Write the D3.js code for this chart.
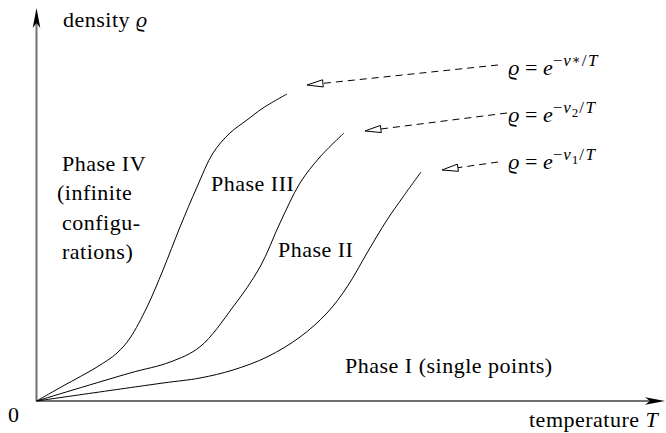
<!DOCTYPE html>
<html><head><meta charset="utf-8">
<script src="https://cdn.jsdelivr.net/npm/d3@7"></script>
<style>
body{margin:0;background:#fff}
text{font-family:"Liberation Serif","DejaVu Serif",serif;font-size:22px;fill:#000;letter-spacing:0.5px}
</style>
</head><body>
<svg id="c" width="666" height="433"></svg>
<script>
// ---- data (T in arbitrary units 0..10, density 0..10) ----
const nuStarT   = [0, 0.421, 0.960, 1.278, 1.484, 1.754, 2.008, 2.278, 2.548, 2.802, 3.071, 3.341, 3.595, 3.976];
const nuStarRho = [0, 0.382, 0.865, 1.221, 1.603, 2.392, 3.333, 4.427, 5.445, 6.310, 6.819, 7.150, 7.455, 7.812];
const nu2T      = [0, 1.484, 2.119, 2.595, 3.119, 3.548, 3.865, 4.183, 4.500, 4.881];
const nu2Rho    = [0, 0.712, 0.990, 1.380, 2.392, 3.410, 4.529, 5.547, 6.209, 6.819];
const nu1T      = [0, 2.008, 2.595, 3.119, 3.659, 4.183, 4.611, 4.929, 5.246, 5.563, 5.817, 6.103];
const nu1Rho    = [0, 0.458, 0.585, 0.789, 1.120, 1.628, 2.239, 2.901, 3.766, 4.606, 5.191, 5.827];

// annotation arrows (label -> curve end)
const arrowFromT   = [7.325, 7.468, 7.325];
const arrowFromRho = [8.550, 7.328, 6.081];
const arrowToT     = [4.294, 5.214, 6.437];
const arrowToRho   = [8.040, 6.870, 5.878];
const labelSubs    = ["*", "2", "1"];
const labelT       = [7.49, 7.49, 7.49];
const labelRho     = [8.295, 7.099, 5.903];

const phaseLines = ["Phase IV", "(infinite", "configu-", "rations)", "Phase III", "Phase II", "Phase I (single points)"];
const phaseT     = [0.405, 0.325, 0.405, 0.405, 2.770, 3.833, 4.897];
const phaseRho   = [5.852, 5.115, 4.351, 3.613, 5.344, 3.664, 0.712];

const xMax = 10, yMax = 10;

// ---- scales ----
const x = d3.scaleLinear().domain([0, xMax]).range([36.5, 666.5]);
const y = d3.scaleLinear().domain([0, yMax]).range([401, 8]);

const svg = d3.select("#c");

// axes
const axisColor = "#707070";
svg.append("line").attr("x1", x(0)).attr("y1", y(0)).attr("x2", x(xMax) - 8).attr("y2", y(0))
  .attr("stroke", axisColor).attr("stroke-width", 2);
svg.append("line").attr("x1", x(0)).attr("y1", y(0)).attr("x2", x(0)).attr("y2", y(yMax) + 8)
  .attr("stroke", axisColor).attr("stroke-width", 2);

function stealth(tx, ty, dx, dy) {
  const L = 20, W = 3.8, ind = 5;
  const px = -dy, py = dx;
  const bx = tx - dx * L, by = ty - dy * L;
  const ix = tx - dx * (L - ind), iy = ty - dy * (L - ind);
  return `M${tx},${ty}L${bx + px * W},${by + py * W}L${ix},${iy}L${bx - px * W},${by - py * W}Z`;
}
svg.append("path").attr("d", stealth(x(xMax) - 1.5, y(0), 1, 0)).attr("fill", "#000");
svg.append("path").attr("d", stealth(x(0), y(yMax), 0, -1)).attr("fill", "#000");

// curves
const line = d3.line().x(d => x(d[0])).y(d => y(d[1])).curve(d3.curveCatmullRom.alpha(0.5));
[[nuStarT, nuStarRho], [nu2T, nu2Rho], [nu1T, nu1Rho]].forEach(([ts, rs]) => {
  svg.append("path").attr("d", line(ts.map((t, i) => [t, rs[i]])))
    .attr("fill", "none").attr("stroke", "#000").attr("stroke-width", 1);
});

// dashed arrows with open triangle heads
arrowFromT.forEach((ft, i) => {
  const sx = x(ft), sy = y(arrowFromRho[i]);
  const tx = x(arrowToT[i]), ty = y(arrowToRho[i]);
  let dx = tx - sx, dy = ty - sy;
  const len = Math.hypot(dx, dy); dx /= len; dy /= len;
  const L = 16, W = 3.6;
  const bx = tx - dx * L, by = ty - dy * L;
  svg.append("line").attr("x1", sx).attr("y1", sy).attr("x2", bx).attr("y2", by)
    .attr("stroke", "#000").attr("stroke-width", 1).attr("stroke-dasharray", "7,5");
  svg.append("path")
    .attr("d", `M${tx},${ty}L${bx - dy * W},${by + dx * W}L${bx + dy * W},${by - dx * W}Z`)
    .attr("fill", "#fff").attr("stroke", "#000").attr("stroke-width", 1);
});

// math labels  ϱ = e^{-ν_k/T}
labelSubs.forEach((s, i) => {
  const t = svg.append("text").attr("x", x(labelT[i])).attr("y", y(labelRho[i])).style("letter-spacing", "0");
  t.append("tspan").attr("font-style", "italic").text("ϱ");
  t.append("tspan").text(" = ");
  t.append("tspan").attr("font-style", "italic").text("e");
  t.append("tspan").attr("dy", -9).attr("font-size", 17).style("letter-spacing", "1px").text("−");
  t.append("tspan").attr("font-size", 17).attr("font-style", "italic").style("letter-spacing", "1px").text("ν");
  if (s === "*") {
    t.append("tspan").attr("dy", -2).attr("font-size", 13).style("letter-spacing", "1px").text("∗");
    t.append("tspan").attr("dy", 2).attr("font-size", 17).style("letter-spacing", "1.5px").text("/");
  } else {
    t.append("tspan").attr("dy", 4).attr("font-size", 13).style("letter-spacing", "1px").text(s);
    t.append("tspan").attr("dy", -4).attr("font-size", 17).style("letter-spacing", "1.5px").text("/");
  }
  t.append("tspan").attr("font-size", 17).attr("font-style", "italic").text("T");
});

// phase labels
phaseLines.forEach((s, i) => {
  svg.append("text").attr("x", x(phaseT[i])).attr("y", y(phaseRho[i])).text(s);
});

// axis labels
const yl = svg.append("text").attr("x", 63).attr("y", 27);
yl.append("tspan").text("density ");
yl.append("tspan").attr("font-style", "italic").text("ϱ");
const xl = svg.append("text").attr("x", 529).attr("y", 427);
xl.append("tspan").text("temperature ");
xl.append("tspan").attr("font-style", "italic").text("T");
svg.append("text").attr("x", 8).attr("y", 422).text("0");
</script>
</body></html>
